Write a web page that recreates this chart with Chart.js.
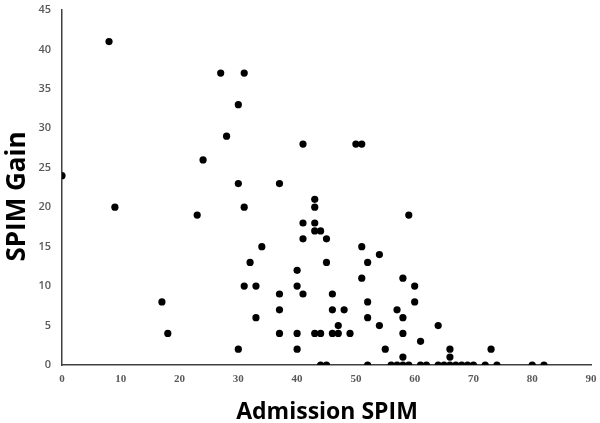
<!DOCTYPE html>
<html>
<head>
<meta charset="utf-8">
<script src="https://cdn.jsdelivr.net/npm/chart.js@4"></script>
<style>
  html, body { margin: 0; padding: 0; background: #ffffff; }
  #wrap { width: 600px; height: 423px; position: relative; }
</style>
</head>
<body>
<div id="wrap"><canvas id="c" width="600" height="423"></canvas></div>
<script>
// Admission SPIM (x) and SPIM Gain (y)
const admissionSPIM = [
  0, 8, 9, 17, 18, 23, 24, 27, 28, 30,
  31, 30, 31, 30, 31, 32, 33, 33, 34, 37,
  37, 37, 37, 40, 40, 40, 40, 41, 41, 41,
  41, 43, 43, 43, 43, 44, 43, 44, 44, 45,
  45, 45, 46, 46, 46, 47, 47, 48, 49, 50,
  51, 51, 51, 52, 52, 52, 52, 54, 54, 55,
  56, 57, 57, 58, 58, 58, 58, 58, 59, 59,
  60, 60, 61, 61, 62, 64, 64, 65, 66, 66,
  66, 67, 68, 69, 70, 72, 73, 74, 80, 82
];
const spimGain = [
  24, 41, 20, 8, 4, 19, 26, 37, 29, 33,
  37, 23, 20, 2, 10, 13, 10, 6, 15, 23,
  9, 7, 4, 12, 10, 4, 2, 28, 18, 16,
  9, 21, 20, 18, 17, 17, 4, 4, 0, 0,
  16, 13, 9, 7, 4, 5, 4, 7, 4, 28,
  28, 15, 11, 13, 8, 6, 0, 14, 5, 2,
  0, 0, 7, 11, 6, 4, 1, 0, 0, 19,
  10, 8, 3, 0, 0, 5, 0, 0, 2, 1,
  0, 0, 0, 0, 0, 0, 2, 0, 0, 0
];
const xTicks = [0, 10, 20, 30, 40, 50, 60, 70, 80, 90];
const yTicks = [0, 5, 10, 15, 20, 25, 30, 35, 40, 45];
const xTitle = 'Admission SPIM';
const yTitle = 'SPIM Gain';

const points = admissionSPIM.map((x, i) => ({ x: x, y: spimGain[i] }));

const titlePlugin = {
  id: 'axisTitles',
  afterDraw(chart) {
    const ctx = chart.ctx;
    const area = chart.chartArea;
    ctx.save();
    ctx.fillStyle = '#000000';
    ctx.textAlign = 'center';
    ctx.textBaseline = 'alphabetic';
    ctx.font = 'bold 23px "Open Sans"';
    ctx.fillText(xTitle, (area.left + area.right) / 2 + 0.5, 418.5);
    ctx.translate(25, 196.5);
    ctx.rotate(-Math.PI / 2);
    ctx.font = 'bold 26px "Open Sans"';
    ctx.fillText(yTitle, 0, 0);
    ctx.restore();
  }
};

new Chart(document.getElementById('c'), {
  type: 'scatter',
  data: {
    datasets: [{
      data: points,
      backgroundColor: '#000000',
      borderColor: '#000000',
      borderWidth: 0,
      pointRadius: 3.6,
      pointHoverRadius: 3.6
    }]
  },
  options: {
    responsive: false,
    animation: false,
    events: [],
    layout: { padding: { top: 10, right: 9, left: 0, bottom: 0 } },
    plugins: {
      legend: { display: false },
      tooltip: { enabled: false }
    },
    scales: {
      x: {
        type: 'linear',
        min: 0,
        max: 90,
        afterBuildTicks(scale) { scale.ticks = xTicks.map(v => ({ value: v })); },
        afterFit(scale) {
          scale.height = 58;
          scale.paddingLeft = 0;
          scale.paddingRight = 0;
        },
        grid: { display: false, drawTicks: false },
        border: { display: true, color: '#404040', width: 1.5 },
        ticks: {
          padding: 8,
          color: '#595959',
          font: { family: '"Liberation Serif"', size: 11, weight: 'bold' },
          maxRotation: 0
        }
      },
      y: {
        type: 'linear',
        min: 0,
        max: 45,
        afterBuildTicks(scale) { scale.ticks = yTicks.map(v => ({ value: v })); },
        afterFit(scale) {
          scale.width = 62;
          scale.paddingTop = 0;
          scale.paddingBottom = 0;
        },
        grid: { display: false, drawTicks: false },
        border: { display: true, color: '#404040', width: 1.5 },
        ticks: {
          padding: 11,
          color: '#595959',
          font: { family: '"Open Sans"', size: 11, weight: '600' }
        }
      }
    }
  },
  plugins: [titlePlugin]
});
</script>
</body>
</html>
